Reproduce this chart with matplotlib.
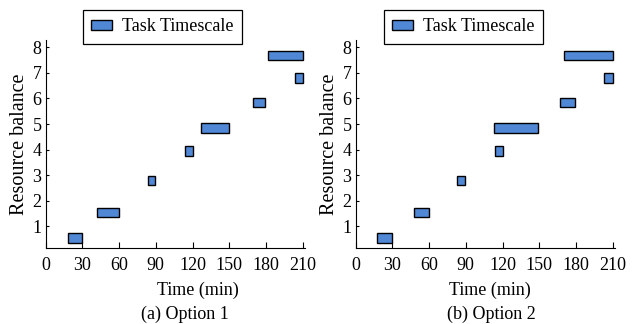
import matplotlib.pyplot as plt

plt.rcParams['font.family'] = ['Liberation Serif', 'DejaVu Serif']

# task bars: start time, end time (min), resource balance level
levels = [0.55, 1.55, 2.8, 3.94, 4.84, 5.84, 6.8, 7.68]

opt1_start = [18, 42, 83.5, 114, 127, 169.5, 203.5, 182]
opt1_end = [30, 60, 89.6, 120.6, 150, 179.4, 210, 210]

opt2_start = [17.6, 47.4, 83, 113.8, 113.3, 167, 203, 170]
opt2_end = [30, 60, 89.5, 120.6, 149.2, 179.4, 210, 210]

xticks = [0, 30, 60, 90, 120, 150, 180, 210]
yticks = [1, 2, 3, 4, 5, 6, 7, 8]

# caption, data, axes left, legend x, xlabel x, caption x (fig px)
panels = [
    ('(a) Option 1', opt1_start, opt1_end, 45.6, 0.143, 0.588, 185),
    ('(b) Option 2', opt2_start, opt2_end, 355.6, 0.108, 0.519, 491),
]

W, H = 632, 324
fig = plt.figure(figsize=(W / 100, H / 100), dpi=100)

for caption, starts, ends, left, leg_x, lab_x, cap_x in panels:
    ax = fig.add_axes([left / W, 0.2333, 259.1 / W, 0.6423])
    widths = [e - s for s, e in zip(starts, ends)]
    ax.barh(levels, widths, left=starts, height=0.37,
            color='#5088d6', edgecolor='black', linewidth=1.0,
            label='Task Timescale')
    ax.set_xlim(0, 211.6)
    ax.set_ylim(0.14, 8.27)
    ax.set_xticks(xticks)
    ax.set_yticks(yticks)
    ax.spines['top'].set_visible(False)
    ax.spines['right'].set_visible(False)
    ax.tick_params(direction='in', labelsize=13)
    ax.tick_params(axis='x', length=4, pad=6)
    ax.tick_params(axis='y', length=2.5, pad=3)
    ax.set_xlabel('Time (min)', fontsize=13)
    ax.xaxis.label.set_va('baseline')
    ax.xaxis.set_label_coords(lab_x, -0.222)
    ax.set_ylabel('Resource balance', fontsize=14.5)
    ax.yaxis.label.set_va('center')
    ax.yaxis.set_label_coords(-0.102, 0.5)
    leg = ax.legend(loc='upper left', bbox_to_anchor=(leg_x, 1.144),
                    borderaxespad=0, fancybox=False, edgecolor='black',
                    fontsize=13, handlelength=1.2, handleheight=0.5,
                    handletextpad=0.55, borderpad=0.45, framealpha=1)
    leg.get_frame().set_linewidth(0.9)
    fig.text(cap_x / W, 0.016, caption, ha='center', va='baseline',
             fontsize=13)

plt.savefig('out.png', dpi=100)
